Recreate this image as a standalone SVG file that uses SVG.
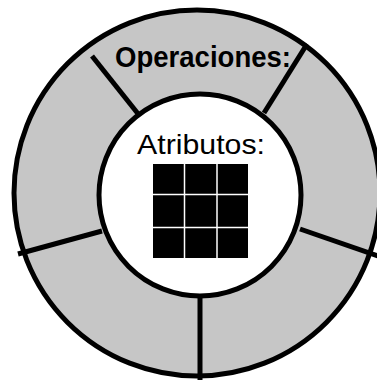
<svg xmlns="http://www.w3.org/2000/svg" width="377" height="380" viewBox="0 0 377 380">
  <style>
    .ring { fill: #c6c6c6; stroke: #000; stroke-width: 5; }
    .core { fill: #fff; stroke: #000; stroke-width: 5; }
    .divider { stroke: #000; stroke-width: 5; stroke-linecap: butt; }
    .label { font-family: "Liberation Sans", Arial, sans-serif; fill: #000; text-anchor: middle; }
    .cell-line { stroke: #fff; stroke-width: 1.5; }
  </style>
  <rect width="377" height="380" fill="#fff"/>

  <!-- outer ring of operations -->
  <g id="operaciones-ring">
    <circle class="ring" cx="197" cy="193" r="183"/>
  </g>

  <!-- dividers between operation slots -->
  <g id="dividers">
    <line class="divider" x1="92" y1="56" x2="139" y2="115"/>
    <line class="divider" x1="307" y1="44" x2="264" y2="113"/>
    <line class="divider" x1="378" y1="256" x2="300" y2="229"/>
    <line class="divider" x1="200" y1="380" x2="200" y2="294"/>
    <line class="divider" x1="18" y1="254" x2="102" y2="231"/>
  </g>

  <g id="operaciones-label">
    <text class="label" x="203" y="67" font-size="29" font-weight="bold" textLength="176" lengthAdjust="spacingAndGlyphs">Operaciones:</text>
  </g>

  <!-- inner core holding the attributes -->
  <g id="atributos">
    <circle class="core" cx="200" cy="195" r="101"/>
    <text class="label" x="201" y="154" font-size="28" textLength="128" lengthAdjust="spacingAndGlyphs">Atributos:</text>
    <rect x="153" y="164" width="95" height="94" fill="#000"/>
    <line class="cell-line" x1="184.5" y1="164" x2="184.5" y2="258"/>
    <line class="cell-line" x1="217" y1="164" x2="217" y2="258"/>
    <line class="cell-line" x1="153" y1="194.5" x2="248" y2="194.5"/>
    <line class="cell-line" x1="153" y1="227.5" x2="248" y2="227.5"/>
  </g>
</svg>
